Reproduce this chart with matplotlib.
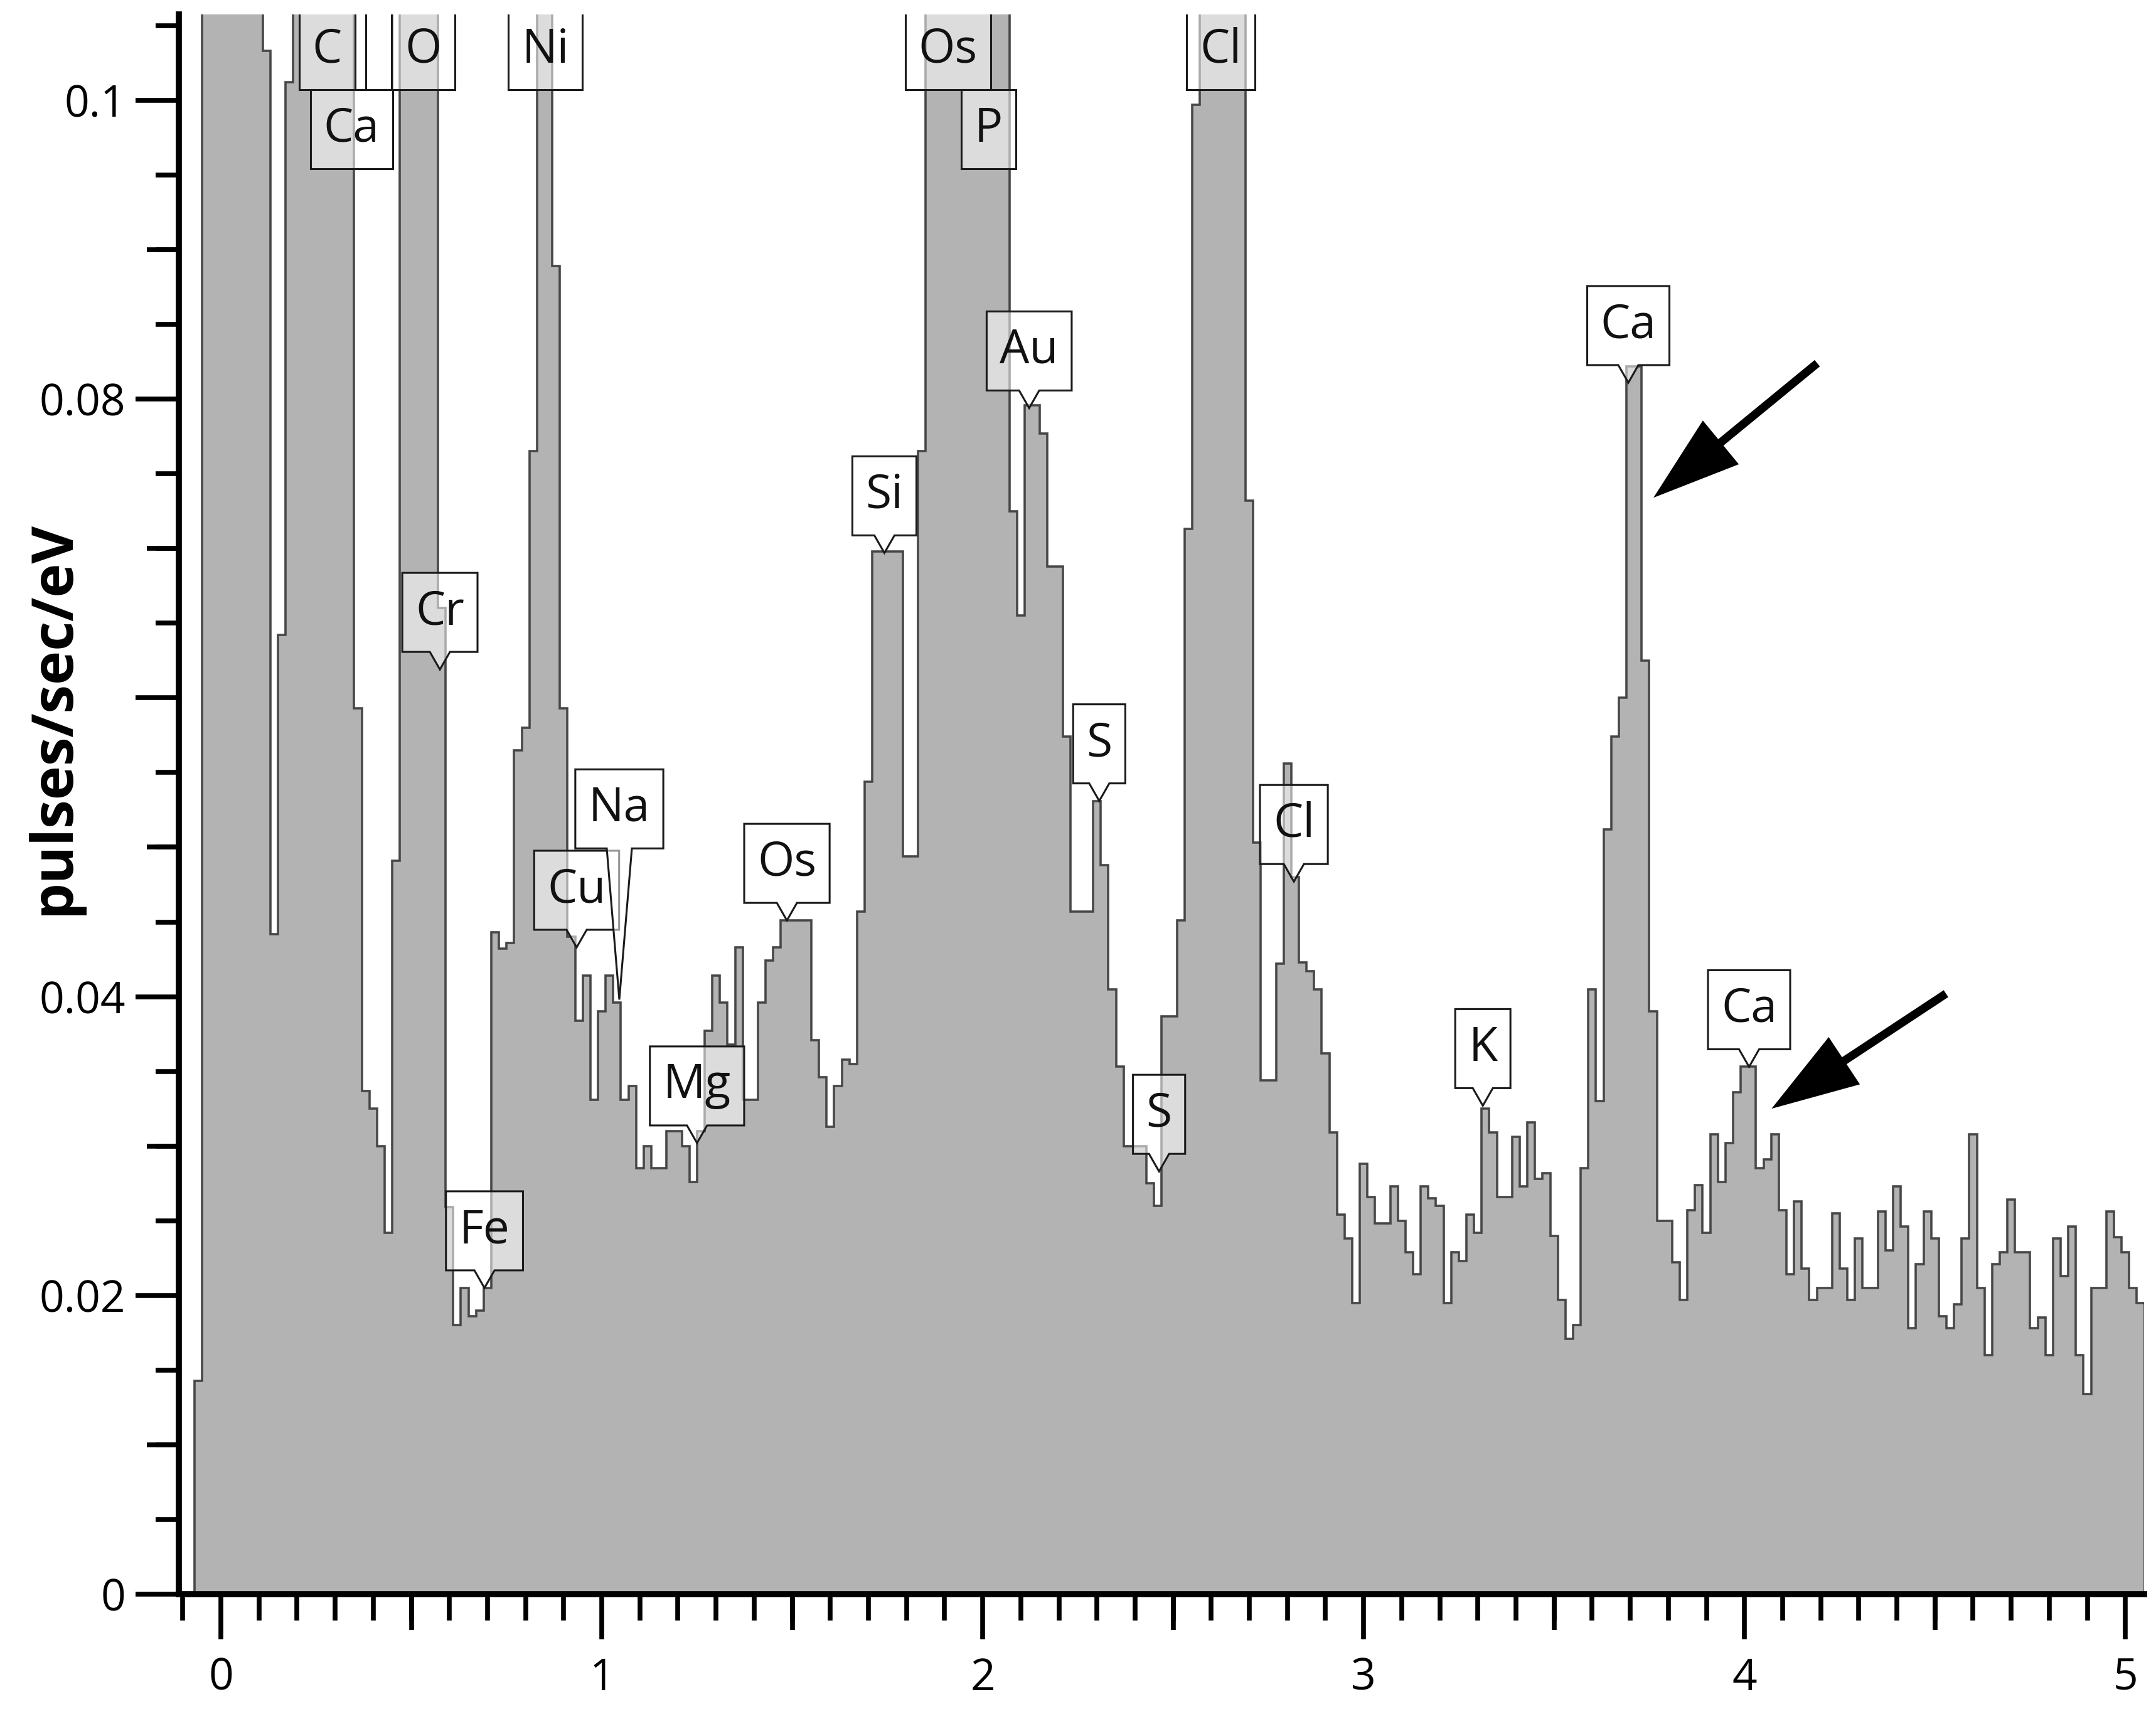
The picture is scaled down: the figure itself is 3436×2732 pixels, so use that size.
import numpy as np
import matplotlib
matplotlib.use("Agg")
import matplotlib.pyplot as plt
from matplotlib.ticker import MultipleLocator, FixedLocator, FixedFormatter, NullLocator
from matplotlib.patches import Polygon

plt.rcParams['font.family'] = ['Open Sans', 'DejaVu Sans']

# ---------------- data ----------------
OFF = 0.2  # channels whose peak runs past the top of the axis
channel_start_kev = -0.07
channel_width_kev = 0.02
counts = [
    0.0143, OFF, OFF, OFF, OFF, OFF, OFF, OFF, OFF, 0.1033,              # -0.06 .. 0.12
    0.0442, 0.0642, 0.1012, OFF, OFF, OFF, OFF, OFF, OFF, OFF,           # 0.14 .. 0.32
    OFF, 0.0593, 0.0337, 0.0325, 0.0300, 0.0242, 0.0491, OFF, OFF, OFF,  # 0.34 .. 0.52
    OFF, OFF, 0.0660, 0.0259, 0.0180, 0.0205, 0.0186, 0.0190, 0.0205, 0.0443,  # 0.54 .. 0.72
    0.0432, 0.0436, 0.0565, 0.0580, 0.0765, OFF, OFF, 0.0889, 0.0593, 0.0440,  # 0.74 .. 0.92
    0.0384, 0.0414, 0.0331, 0.0390, 0.0414, 0.0396, 0.0331, 0.0340, 0.0285, 0.0300,  # 0.94 .. 1.12
    0.0285, 0.0285, 0.0310, 0.0310, 0.0300, 0.0276, 0.0310, 0.0377, 0.0414, 0.0396,  # 1.14 .. 1.32
    0.0368, 0.0433, 0.0331, 0.0331, 0.0396, 0.0424, 0.0433, 0.0451, 0.0451, 0.0451,  # 1.34 .. 1.52
    0.0451, 0.0371, 0.0346, 0.0313, 0.0340, 0.0358, 0.0355, 0.0457, 0.0544, 0.0698,  # 1.54 .. 1.72
    0.0698, 0.0698, 0.0698, 0.0494, 0.0494, 0.0765, OFF, OFF, OFF, OFF,  # 1.74 .. 1.92
    OFF, OFF, OFF, OFF, OFF, OFF, OFF, 0.0725, 0.0655, 0.0796,           # 1.94 .. 2.12
    0.0796, 0.0777, 0.0688, 0.0688, 0.0574, 0.0457, 0.0457, 0.0457, 0.0531, 0.0488,  # 2.14 .. 2.32
    0.0405, 0.0353, 0.0300, 0.0300, 0.0300, 0.0275, 0.0260, 0.0387, 0.0387, 0.0451,  # 2.34 .. 2.52
    0.0713, 0.0997, OFF, OFF, OFF, OFF, OFF, OFF, 0.0732, 0.0503,        # 2.54 .. 2.72
    0.0344, 0.0344, 0.0422, 0.0556, 0.0480, 0.0423, 0.0417, 0.0405, 0.0362, 0.0309,  # 2.74 .. 2.92
    0.0254, 0.0238, 0.0195, 0.0288, 0.0266, 0.0248, 0.0248, 0.0273, 0.0250, 0.0229,  # 2.94 .. 3.12
    0.0214, 0.0273, 0.0265, 0.0260, 0.0195, 0.0229, 0.0223, 0.0254, 0.0242, 0.0325,  # 3.14 .. 3.32
    0.0309, 0.0266, 0.0266, 0.0306, 0.0273, 0.0316, 0.0278, 0.0282, 0.0240, 0.0197,  # 3.34 .. 3.52
    0.0171, 0.0180, 0.0285, 0.0405, 0.0330, 0.0512, 0.0574, 0.0600, 0.0822, 0.0822,  # 3.54 .. 3.72
    0.0625, 0.0390, 0.0250, 0.0250, 0.0222, 0.0197, 0.0257, 0.0274, 0.0242, 0.0308,  # 3.74 .. 3.92
    0.0276, 0.0302, 0.0336, 0.0353, 0.0353, 0.0285, 0.0291, 0.0308, 0.0257, 0.0214,  # 3.94 .. 4.12
    0.0263, 0.0218, 0.0197, 0.0205, 0.0205, 0.0255, 0.0218, 0.0197, 0.0238, 0.0205,  # 4.14 .. 4.32
    0.0205, 0.0256, 0.0230, 0.0273, 0.0246, 0.0178, 0.0221, 0.0256, 0.0238, 0.0186,  # 4.34 .. 4.52
    0.0178, 0.0194, 0.0238, 0.0308, 0.0205, 0.0160, 0.0221, 0.0229, 0.0264, 0.0229,  # 4.54 .. 4.72
    0.0229, 0.0178, 0.0185, 0.0160, 0.0238, 0.0213, 0.0246, 0.0160, 0.0134, 0.0205,  # 4.74 .. 4.92
    0.0205, 0.0256, 0.0239, 0.0229, 0.0205, 0.0195,                      # 4.94 .. 5.04
]

# element labels running off the top of the axis (no pointer)
top_names = ['C', '', 'O', 'Ni', 'Os', 'Cl']
top_kev = [0.279, 0.415, 0.531, 0.852, 1.909, 2.625]
second_names = ['Ca', 'P']
second_kev = [0.343, 2.015]

# element labels with a pointer to the spectrum
callout_names = ['Cr', 'Fe', 'Cu', 'Na', 'Mg', 'Os', 'Si', 'Au', 'S', 'S', 'Cl', 'K', 'Ca', 'Ca']
callout_kev = [0.575, 0.692, 0.934, 1.046, 1.250, 1.486, 1.742, 2.122, 2.306, 2.463, 2.817, 3.313, 3.695, 4.012]
callout_val = [0.0619, 0.0205, 0.0433, 0.0398, 0.0302, 0.0451, 0.0697, 0.0794, 0.0531, 0.0283,
               0.0477, 0.0327, 0.0811, 0.0353]
long_pointer = ['Na']

# arrows marking the Ca peaks
arrow_tail_kev = [4.191, 4.529]
arrow_tail_val = [0.0824, 0.0402]
arrow_tip_kev = [3.761, 4.071]
arrow_tip_val = [0.0734, 0.0325]

x_ticks = [0, 1, 2, 3, 4, 5]
x_tick_labels = ['0', '1', '2', '3', '4', '5']
y_ticks = [0, 0.02, 0.04, 0.06, 0.08, 0.1]
y_tick_labels = ['0', '0.02', '0.04', '', '0.08', '0.1']
y_label = 'pulses/sec/eV'

# ---------------- figure ----------------
W, H = 3437, 2732
fig = plt.figure(figsize=(W / 100, H / 100), dpi=100)
fig.patch.set_facecolor('white')
ax = fig.add_axes([285 / W, (H - 2541) / H, (3417 - 285) / W, (2541 - 23) / H])
ax.set_xlim(-0.1104, 5.049)
ax.set_ylim(0, 0.10575)

edges = channel_start_kev + channel_width_kev * np.arange(len(counts) + 1)
vals = np.array(counts)
ax.stairs(vals, edges, baseline=0, fill=True, color='#b3b3b3', zorder=1, lw=0)
ax.stairs(vals, edges, baseline=0, fill=False, color='#474747', lw=2.6, zorder=2)

for s in ['top', 'right']:
    ax.spines[s].set_visible(False)
for s in ['left', 'bottom']:
    ax.spines[s].set_linewidth(7)
    ax.spines[s].set_color('black')
    ax.spines[s].set_zorder(8)

TICK_FS = 50
ax.xaxis.set_major_locator(FixedLocator(x_ticks))
ax.xaxis.set_major_formatter(FixedFormatter(x_tick_labels))
ax.xaxis.set_minor_locator(MultipleLocator(0.1))
ax.yaxis.set_major_locator(FixedLocator(y_ticks))
ax.yaxis.set_major_formatter(FixedFormatter(y_tick_labels))
ax.yaxis.set_minor_locator(MultipleLocator(0.005))
ax.tick_params(axis='x', which='major', length=52, width=5.5, pad=20, labelsize=TICK_FS, direction='out')
ax.tick_params(axis='x', which='minor', length=30, width=5.5, direction='out')
ax.tick_params(axis='y', which='major', length=50, width=5.5, pad=11, labelsize=TICK_FS, direction='out')
ax.tick_params(axis='y', which='minor', length=27, width=5.5, direction='out')

secx = ax.secondary_xaxis('bottom')
secx.xaxis.set_major_locator(FixedLocator([0.5, 1.5, 2.5, 3.5, 4.5]))
secx.xaxis.set_minor_locator(NullLocator())
secx.tick_params(axis='x', length=41, width=5.5, labelbottom=False, direction='out')
for sp in secx.spines.values():
    sp.set_visible(False)
secy = ax.secondary_yaxis('left')
secy.yaxis.set_major_locator(FixedLocator([0.01, 0.03, 0.05, 0.07, 0.09]))
secy.yaxis.set_minor_locator(NullLocator())
secy.tick_params(axis='y', length=37, width=5.5, labelleft=False, direction='out')
for sp in secy.spines.values():
    sp.set_visible(False)

fig.text(86 / W, 1 - 1144 / H, y_label, rotation=90, ha='center', va='center',
         fontsize=66, fontweight='bold')

# ---------------- labels ----------------
LABEL_FS = 54
BOX_H = 126
BOX_PAD = 21
PTR_H = 28
PTR_HALF = 16

renderer = fig.canvas.get_renderer()
to_data = ax.transData.inverted()


def text_width_px(s):
    if not s:
        return 0.0
    t = ax.text(0, 0, s, fontsize=LABEL_FS)
    w = t.get_window_extent(renderer).width
    t.remove()
    return w


def draw_label(name, cx, bottom, tip=None, ptr_half=PTR_HALF):
    w = text_width_px(name) + 2 * BOX_PAD
    x0, x1 = cx - w / 2, cx + w / 2
    y0, y1 = bottom, bottom + BOX_H
    if tip is None:
        verts = [(x0, y0), (x1, y0), (x1, y1), (x0, y1)]
    else:
        tx, ty = tip
        verts = [(x0, y0), (tx - ptr_half, y0), (tx, ty), (tx + ptr_half, y0),
                 (x1, y0), (x1, y1), (x0, y1)]
    ax.add_patch(Polygon(to_data.transform(verts), closed=True,
                         facecolor=(1, 1, 1, 0.55), edgecolor='#1a1a1a',
                         lw=2.2, zorder=5, clip_on=True))
    if name:
        tx_, ty_ = to_data.transform((cx, y0 + BOX_H / 2))
        ax.text(tx_, ty_, name, ha='center', va='center', fontsize=LABEL_FS,
                color='#111111', zorder=6, clip_on=True)


top_bottom_px = ax.transData.transform((0, 0.1007))[1]
second_bottom_px = ax.transData.transform((0, 0.0954))[1]
for n, e in zip(top_names, top_kev):
    cx = ax.transData.transform((e, 0))[0]
    draw_label(n, cx, top_bottom_px)
for n, e in zip(second_names, second_kev):
    cx = ax.transData.transform((e, 0))[0]
    draw_label(n, cx, second_bottom_px)
for n, e, v in zip(callout_names, callout_kev, callout_val):
    tx, ty = ax.transData.transform((e, v))
    if n in long_pointer:
        draw_label(n, tx, ty + 241, tip=(tx, ty), ptr_half=20)
    else:
        draw_label(n, tx, ty + PTR_H, tip=(tx, ty))

for te, tv, he, hv in zip(arrow_tail_kev, arrow_tail_val, arrow_tip_kev, arrow_tip_val):
    ax.annotate('', xy=(he, hv), xytext=(te, tv),
                arrowprops=dict(arrowstyle='simple,head_length=1.0,head_width=0.65,tail_width=0.095',
                                mutation_scale=100, color='black', lw=0,
                                shrinkA=0, shrinkB=0), zorder=7)

fig.savefig('out.png', dpi=100, facecolor='white')
